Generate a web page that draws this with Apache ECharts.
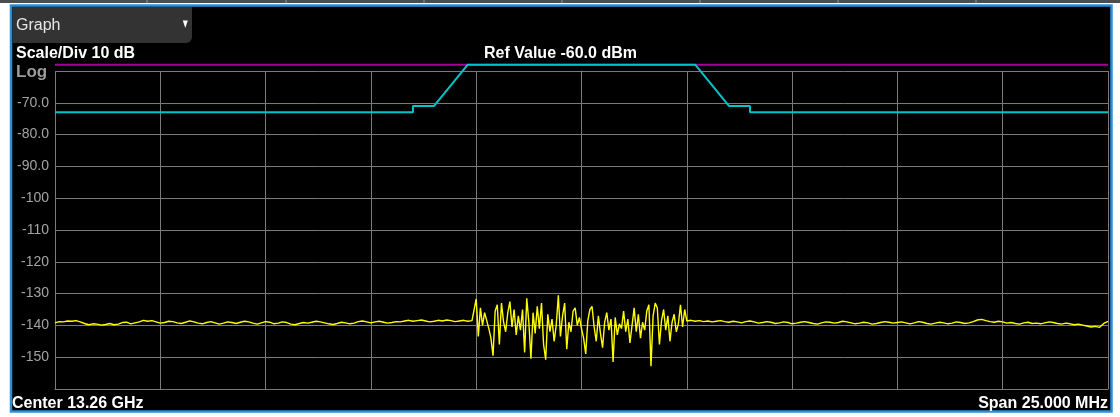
<!DOCTYPE html>
<html>
<head>
<meta charset="utf-8">
<script src="https://cdn.jsdelivr.net/npm/echarts@6/dist/echarts.min.js"></script>
<style>
  html, body { margin: 0; padding: 0; background: #fff; }
  #chart { width: 1120px; height: 417px; }
</style>
</head>
<body>
<div id="chart"></div>
<script>
// frequency offset from center, MHz
const spanStart = -12.5
const spanEnd = 12.5

// y axis ticks and their labels
const yTicks = [-70, -80, -90, -100, -110, -120, -130, -140, -150]
const yLabels = ['-70.0', '-80.0', '-90.0', '-100', '-110', '-120', '-130', '-140', '-150']

// limit mask (cyan)
const maskFreq = [-12.5, -4.0, -4.0, -3.5, -2.7, 2.7, 3.5, 4.0, 4.0, 12.5]
const maskLevel = [-73, -73, -71, -71, -58, -58, -71, -71, -73, -73]

// display line (magenta)
const lineLevel = -58

// trace, left floor: -12.5 .. -2.5 MHz, step 0.1
const traceLeft = [
  -139.2, -138.8, -138.9, -138.6, -138.7, -138.5, -138.9, -139.4, -139.8, -139.5,
  -139.6, -139.9, -139.7, -139.4, -139.8, -139.6, -139.1, -139.0, -139.5, -139.2,
  -138.9, -138.4, -138.7, -138.5, -138.9, -139.3, -139.1, -138.7, -138.8, -139.2,
  -139.4, -139.0, -138.6, -138.9, -139.3, -139.5, -139.1, -138.8, -139.2, -139.6,
  -139.3, -138.9, -139.1, -139.4, -139.0, -138.7, -138.9, -139.3, -139.6, -139.2,
  -138.8, -139.0, -139.5, -139.3, -138.9, -139.1, -139.6, -139.8, -139.4, -139.1,
  -139.3, -139.0, -138.7, -138.9, -139.2, -139.5, -139.7, -139.4, -139.0, -139.2,
  -139.5, -139.3, -138.8, -138.6, -138.9, -139.2, -138.9, -138.7, -139.0, -139.3,
  -139.1, -138.8, -138.9, -138.6, -138.4, -138.7, -138.5, -138.3, -138.6, -138.9,
  -138.7, -138.4, -138.6, -138.3, -138.5, -138.8, -138.6, -138.4, -138.7, -138.5
]
// trace, signal: -2.5 .. 2.5 MHz, step 0.05
const traceBurst = [
  -131.7, -143.5, -134.5, -140.0, -136.0, -138.5, -141.0, -144.0, -149.5, -135.5,
  -133.5, -146.0, -133.0, -139.0, -142.0, -136.0, -132.5, -140.5, -135.0, -143.0,
  -137.0, -141.5, -135.0, -148.5, -131.5, -139.0, -150.5, -136.0, -142.5, -134.0,
  -141.0, -133.0, -146.0, -150.8, -136.5, -142.0, -138.0, -145.0, -140.0, -130.5,
  -143.5, -137.0, -133.0, -147.5, -139.0, -142.0, -135.5, -134.5, -140.0, -137.5,
  -141.0, -144.0, -149.0, -138.5, -135.0, -134.0, -140.5, -145.0, -137.0, -142.5,
  -147.0, -139.0, -136.0, -141.5, -138.0, -151.5, -137.5, -143.0, -139.5, -141.0,
  -135.5, -142.0, -138.0, -145.5, -140.0, -134.5, -142.0, -136.5, -144.0, -139.0,
  -141.5, -135.5, -133.5, -152.8, -137.0, -133.0, -134.5, -146.0, -138.5, -135.0,
  -141.5, -137.0, -145.0, -139.0, -136.5, -142.0, -139.5, -133.5, -140.5, -135.0
]
// trace, right floor: 2.5 .. 12.5 MHz, step 0.1
const traceRight = [
  -138.6, -138.4, -138.7, -138.5, -138.8, -138.6, -138.9, -138.7, -138.5, -138.8,
  -139.0, -138.7, -138.9, -139.2, -138.8, -138.6, -138.9, -139.3, -139.1, -138.8,
  -139.0, -139.4, -139.2, -138.9, -139.1, -139.5, -139.3, -139.0, -138.8, -139.1,
  -139.4, -139.6, -139.2, -138.9, -139.0, -139.3, -139.1, -138.7, -138.9, -139.2,
  -139.5, -139.3, -139.0, -139.2, -139.6, -139.4, -139.1, -138.8, -139.0, -139.3,
  -139.1, -138.9, -139.2, -139.5, -139.2, -138.8, -139.0, -139.4, -139.6, -139.3,
  -139.0, -139.2, -139.5, -139.3, -138.9, -139.1, -139.4, -139.2, -138.8, -138.3,
  -138.1, -138.5, -138.8, -139.0, -138.7, -138.9, -139.3, -139.1, -139.4, -139.6,
  -139.2, -139.0, -139.4, -139.3, -139.5, -139.2, -138.9, -139.1, -139.4, -139.6,
  -139.3, -139.5, -139.8, -139.6, -139.9, -140.2, -140.5, -140.3, -140.6, -139.4,
  -138.7
]

function withFreq (values, start, step) {
  return values.map((v, i) => [+(start + i * step).toFixed(3), v])
}

const trace = [].concat(
  withFreq(traceLeft, -12.5, 0.1),
  withFreq(traceBurst, -2.5, 0.05),
  withFreq(traceRight, 2.5, 0.1)
)
const mask = maskFreq.map((f, i) => [f, maskLevel[i]])

const font = '"Liberation Sans", Arial, sans-serif'
const gridColor = '#7a7a7a'

const chart = echarts.init(document.getElementById('chart'), null, { renderer: 'canvas' })

// top tab strip dividers
const tabX = [147, 286, 424, 562, 700, 838, 976]
const strip = [{
  type: 'rect', shape: { x: 0, y: 0, width: 1120, height: 3 },
  style: { fill: '#4d4d4d' }, z: 0
}].concat(tabX.map(x => ({
  type: 'line', shape: { x1: x, y1: 0, x2: x, y2: 3 },
  style: { stroke: '#9a9a9a', lineWidth: 1 }, z: 1
})))

chart.setOption({
  animation: false,
  backgroundColor: '#ffffff',
  grid: { left: 55, right: 12, top: 71, bottom: 28 },
  xAxis: {
    type: 'value',
    min: spanStart,
    max: spanEnd,
    interval: 2.5,
    axisLine: { show: true, lineStyle: { color: gridColor, width: 1 } },
    axisTick: { show: false },
    axisLabel: { show: false },
    splitLine: { show: true, lineStyle: { color: gridColor, width: 1 } }
  },
  yAxis: {
    type: 'value',
    min: -160,
    max: -60,
    interval: 10,
    axisLine: { show: true, lineStyle: { color: gridColor, width: 1 } },
    axisTick: { show: false },
    axisLabel: {
      margin: 6,
      color: '#a3a3a3',
      fontFamily: font,
      fontSize: 14,
      formatter: v => {
        const k = yTicks.indexOf(v)
        return k >= 0 ? yLabels[k] : ''
      }
    },
    splitLine: { show: true, lineStyle: { color: gridColor, width: 1 } }
  },
  series: [
    {
      name: 'display line',
      type: 'line',
      data: [[spanStart, lineLevel], [spanEnd, lineLevel]],
      showSymbol: false,
      clip: false,
      lineStyle: { color: '#a4009c', width: 2 },
      z: 3
    },
    {
      name: 'mask',
      type: 'line',
      data: mask,
      showSymbol: false,
      clip: false,
      lineStyle: { color: '#00c4cc', width: 2 },
      z: 4
    },
    {
      name: 'trace',
      type: 'line',
      data: trace,
      showSymbol: false,
      lineStyle: { color: '#ffff00', width: 1.4 },
      z: 5
    }
  ],
  graphic: strip.concat([
    // panel frame
    {
      type: 'rect',
      shape: { x: 11, y: 5.5, width: 1100.5, height: 406 },
      style: { fill: '#000000', stroke: '#2b8fd3', lineWidth: 2.5 },
      z: -10, silent: true
    },
    // dropdown
    {
      type: 'rect',
      shape: { x: 12.5, y: 7, width: 179.5, height: 36, r: [0, 0, 6, 0] },
      style: { fill: '#333333' },
      z: 10
    },
    {
      type: 'text', left: 16, top: 18,
      style: { text: 'Graph', fill: '#e6e6e6', font: '16px ' + font },
      z: 11
    },
    {
      type: 'polygon',
      shape: { points: [[182.8, 20.5], [187.8, 20.5], [185.3, 28]] },
      style: { fill: '#ffffff' },
      z: 11
    },
    {
      type: 'text', left: 16, top: 46,
      style: { text: 'Scale/Div 10 dB', fill: '#ffffff', font: 'bold 16px ' + font },
      z: 11
    },
    {
      type: 'text', left: 16, top: 64,
      style: { text: 'Log', fill: '#9c9c9c', font: 'bold 17px ' + font },
      z: 11
    },
    {
      type: 'text', left: 484, top: 45.5,
      style: { text: 'Ref Value -60.0 dBm', fill: '#ffffff', font: 'bold 16px ' + font },
      z: 11
    },
    {
      type: 'text', left: 12, top: 396,
      style: { text: 'Center 13.26 GHz', fill: '#ffffff', font: 'bold 16px ' + font },
      z: 11
    },
    {
      type: 'text', right: 12, top: 396,
      style: { text: 'Span 25.000 MHz', fill: '#ffffff', font: 'bold 16px ' + font },
      z: 11
    }
  ])
})
</script>
</body>
</html>
